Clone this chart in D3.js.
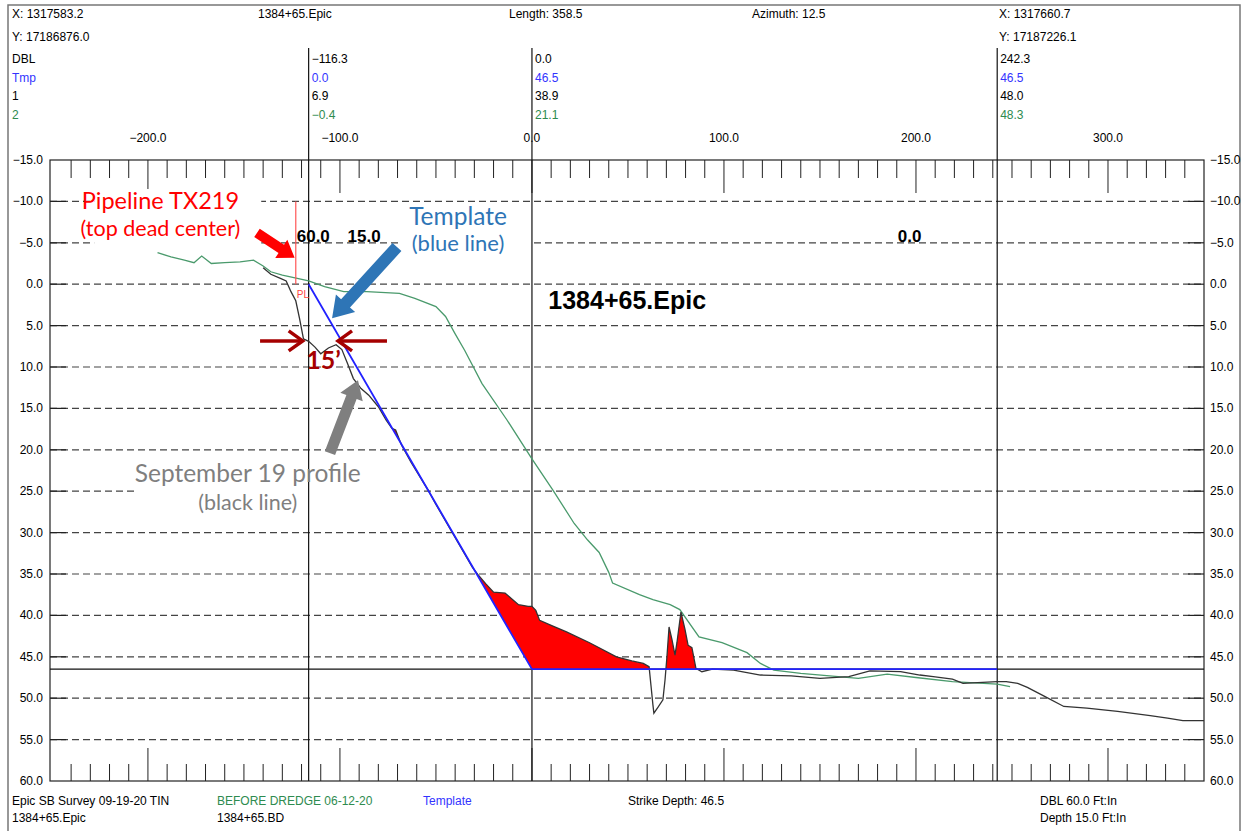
<!DOCTYPE html>
<head>
<meta charset="utf-8" />
<style>
  body { margin: 0; background: #fff; }
  text { font-family: "Liberation Sans", Arial, sans-serif; font-size: 12px; }
  .note { font-family: Lato, "Open Sans", sans-serif; }
</style>
</head>
<body>
<svg id="chart" width="1247" height="831"></svg>
<script src="https://cdnjs.cloudflare.com/ajax/libs/d3/7.8.5/d3.min.js"></script>
<script>
// ---- data ----
const stations = [-116.3, 0.0, 242.3];          // DBL columns
const tmpValues = [0.0, 46.5, 46.5];
const surveyValues = [6.9, 38.9, 48.0];
const beforeValues = [-0.4, 21.1, 48.3];

const templateX = [-116.3, 0.0, 242.3];
const templateY = [0.0, 46.5, 46.5];
const strikeDepth = 46.5;
const pipelineX = -123;

const xLabels = [-200, -100, 0, 100, 200, 300];
const yLabels = d3.range(-15, 60.01, 5);

// Epic SB Survey 09-19-20 (black)
const surveyProfile = [
  [-140,-2.0],[-136,-1.2],[-131,-0.7],[-128,-0.4],[-125.5,0.9],[-123,2.0],[-121,4.2],[-119,6.6],
  [-116.3,6.9],[-113,7.6],[-110,8.4],[-106,7.7],[-102,7.3],[-99,7.9],[-96,9.6],[-93,11.4],[-89,12.6],
  [-85,13.4],[-80,14.8],[-76,16.4],[-73,17.4],[-71,17.6],[-68,19.4],[-63,21.5],[-58,23.4],[-54,24.9],
  [-50,26.6],[-46,28.2],[-42,29.8],[-38,31.4],[-34,33.0],[-31,34.2],[-28,35.1],[-24,36.2],[-20,37.2],
  [-14,37.3],[-10,38.1],[-7,38.7],[-2,38.9],[0,38.9],[2,39.4],[4,40.6],[10,41.2],[18,42.0],[30,43.3],
  [44,45.0],[52,45.5],[58,45.8],[61,46.2],[62,48.5],[63,50.8],[63.5,51.8],[65.6,51.1],[68.2,50.2],
  [69.3,47.8],[70.3,45.0],[71.4,41.4],[72.9,42.9],[74.5,44.8],[75.5,43.3],[77.6,39.6],[79.7,41.7],
  [81.3,43.6],[83.3,43.9],[85.4,46.4],[88.5,46.8],[94,46.5],[105,46.6],[119,47.2],[135,47.3],
  [150,47.6],[165,47.4],[176,46.7],[192,46.8],[202,47.2],[209,47.4],[219,47.7],[224.5,48.2],
  [242.3,48.0],[247,48.0],[253,48.2],[258,48.7],[268,49.9],[277,51.0],[289,51.2],[305,51.6],
  [322,52.1],[331,52.4],[339,52.7],[350,52.7]
];

// BEFORE DREDGE 06-12-20 (green)
const beforeProfile = [
  [-195,-3.8],[-188,-3.3],[-181,-2.9],[-176,-2.6],[-172,-3.4],[-167,-2.5],[-160,-2.6],[-152,-2.7],
  [-145,-2.9],[-140,-2.2],[-136,-1.5],[-130,-1.1],[-124,-0.8],[-116.3,-0.4],[-108,0.3],[-98,0.9],
  [-86,0.9],[-69,1.1],[-61,1.7],[-50,2.7],[-45,3.9],[-40,6.0],[-35,8.0],[-26,12.0],[-13,16.4],
  [0,21.1],[11,24.9],[22,28.9],[29,30.9],[35,32.4],[40,34.8],[42,36.1],[56,37.5],[63,38.1],[72,38.7],
  [77,39.3],[87,42.6],[99,43.3],[112,44.5],[119,45.8],[126,46.6],[140,47.0],[155,47.3],[170,47.6],
  [185,47.1],[200,47.5],[219,48.0],[242.3,48.3],[249,48.6]
];

// ---- layout ----
const plot = { left: 50, right: 1204, top: 160, bottom: 781 };
const x = d3.scaleLinear().domain([-251, 350]).range([plot.left, plot.right]);
const y = d3.scaleLinear().domain([-15, 60]).range([plot.top, plot.bottom]);
const fmt = d3.format('.1f');

const svg = d3.select('#chart');

function label(g, px, py, s, color, anchor, extra) {
  const t = g.append('text').attr('x', px).attr('y', py).text(s)
    .attr('fill', color || '#000').attr('text-anchor', anchor || 'start');
  if (extra) extra(t);
  return t;
}

// outer frame
svg.append('rect').attr('x', 8).attr('y', 5).attr('width', 1232).attr('height', 840)
  .attr('fill', 'none').attr('stroke', '#777').attr('stroke-width', 1.5);

// ---- header ----
const head = svg.append('g');
label(head, 12, 18, 'X: 1317583.2');
label(head, 258, 18, '1384+65.Epic');
label(head, 509, 18, 'Length: 358.5');
label(head, 752, 18, 'Azimuth: 12.5');
label(head, 999, 18, 'X: 1317660.7');
label(head, 12, 41, 'Y: 17186876.0');
label(head, 999, 41, 'Y: 17187226.1');

const rows = [
  { name: 'DBL', color: '#000', vals: stations },
  { name: 'Tmp', color: '#3333ff', vals: tmpValues },
  { name: '1', color: '#000', vals: surveyValues },
  { name: '2', color: '#2e8b4f', vals: beforeValues }
];
rows.forEach((r, i) => {
  const by = 63 + i * 18.5;
  label(head, 12, by, r.name, r.color);
  r.vals.forEach((v, j) => label(head, x(stations[j]) + 3, by, fmt(v), r.color));
});

xLabels.forEach(v => label(head, x(v), 142, fmt(v), '#000', 'middle'));

// ---- grid ----
const grid = svg.append('g');
yLabels.filter(v => v > -15 && v < 60).forEach(v => {
  grid.append('line').attr('x1', plot.left).attr('x2', plot.right)
    .attr('y1', y(v)).attr('y2', y(v))
    .attr('stroke', '#444').attr('stroke-width', 1.2).attr('stroke-dasharray', '7,4');
  [[plot.left, plot.left + 16], [plot.right - 16, plot.right]].forEach(([a, b]) =>
    grid.append('line').attr('x1', a).attr('x2', b).attr('y1', y(v)).attr('y2', y(v))
      .attr('stroke', '#222').attr('stroke-width', 1.2));
});

yLabels.forEach(v => {
  label(grid, plot.left - 7, y(v) + 4, fmt(v), '#000', 'end');
  label(grid, plot.right + 6, y(v) + 4, fmt(v), '#000', 'start');
});

// ticks top & bottom
d3.range(-240, 341, 10).forEach(v => {
  const major = v % 100 === 0;
  grid.append('line').attr('x1', x(v)).attr('x2', x(v))
    .attr('y1', plot.top).attr('y2', plot.top + (major ? 33 : 18)).attr('stroke', '#222');
  grid.append('line').attr('x1', x(v)).attr('x2', x(v))
    .attr('y1', plot.bottom).attr('y2', plot.bottom - (major ? 33 : 17)).attr('stroke', '#222');
});

// white boxes behind the callouts
const boxes = [
  { x0: -228, x1: -141, y0: -11.5, y1: -4.5 },
  { x0: -68, x1: 0, y0: -9.5, y1: -2.0 },
  { x0: -207, x1: -75, y0: 20.5, y1: 27.8 }
];
boxes.forEach(b => svg.append('rect')
  .attr('x', x(b.x0)).attr('y', y(b.y0))
  .attr('width', x(b.x1) - x(b.x0)).attr('height', y(b.y1) - y(b.y0))
  .attr('fill', '#fff'));

// plot frame
svg.append('rect').attr('x', plot.left).attr('y', plot.top)
  .attr('width', plot.right - plot.left).attr('height', plot.bottom - plot.top)
  .attr('fill', 'none').attr('stroke', '#222').attr('stroke-width', 1.2);

// station verticals
stations.forEach(s => svg.append('line').attr('x1', x(s)).attr('x2', x(s))
  .attr('y1', 48).attr('y2', plot.bottom).attr('stroke', '#111').attr('stroke-width', 1.2));

// strike depth
svg.append('line').attr('x1', plot.left).attr('x2', plot.right)
  .attr('y1', y(strikeDepth)).attr('y2', y(strikeDepth)).attr('stroke', '#111').attr('stroke-width', 1.2);

// ---- red fill: survey above template ----
function interp(xs, ys, v) {
  for (let i = 0; i < xs.length - 1; i++) {
    if (v >= xs[i] && v <= xs[i + 1]) {
      const t = (v - xs[i]) / (xs[i + 1] - xs[i]);
      return ys[i] + t * (ys[i + 1] - ys[i]);
    }
  }
  return null;
}
const sx = surveyProfile.map(d => d[0]), sy = surveyProfile.map(d => d[1]);
const xs = Array.from(new Set(sx.concat(templateX)))
  .filter(v => v >= templateX[0] && v <= templateX[templateX.length - 1]).sort((a, b) => a - b);
const fillPts = [];
xs.forEach((v, i) => {
  const diff = interp(templateX, templateY, v) - interp(sx, sy, v);
  if (i > 0) {
    const pv = xs[i - 1];
    const pdiff = interp(templateX, templateY, pv) - interp(sx, sy, pv);
    if (pdiff * diff < 0) fillPts.push(pv + (v - pv) * pdiff / (pdiff - diff));
  }
  fillPts.push(v);
});
const fillData = fillPts.map(v => {
  const t = interp(templateX, templateY, v), s = interp(sx, sy, v);
  return { x: v, t: t, s: Math.min(t, s) };
});
svg.append('path').datum(fillData)
  .attr('d', d3.area().x(d => x(d.x)).y0(d => y(d.t)).y1(d => y(d.s)))
  .attr('fill', '#ff0000');

// ---- profiles ----
const line = d3.line().x(d => x(d[0])).y(d => y(d[1]));
svg.append('path').datum(beforeProfile).attr('d', line)
  .attr('fill', 'none').attr('stroke', '#4a9a6c').attr('stroke-width', 1.3);
svg.append('path').datum(surveyProfile).attr('d', line)
  .attr('fill', 'none').attr('stroke', '#333').attr('stroke-width', 1.3);
svg.append('path').datum(templateX.map((v, i) => [v, templateY[i]])).attr('d', line)
  .attr('fill', 'none').attr('stroke', '#2222ff').attr('stroke-width', 1.8);

// pipeline marker
svg.append('line').attr('x1', x(pipelineX)).attr('x2', x(pipelineX))
  .attr('y1', y(-10)).attr('y2', y(0)).attr('stroke', '#ff5555').attr('stroke-width', 1.2);
label(svg, x(pipelineX) + 1, y(0) + 14, 'PL', '#ff4444', 'start', t => t.style('font-size', '10px'));

// in-plot labels
const bold = t => t.style('font-weight', 'bold').style('font-size', '17px');
label(svg, x(-122.5), y(-5) - 1, '60.0', '#000', 'start', bold);
label(svg, x(-96), y(-5) - 1, '15.0', '#000', 'start', bold);
label(svg, x(190.5), y(-5) - 1, '0.0', '#000', 'start', bold);
label(svg, x(8.5), y(3), '1384+65.Epic', '#000', 'start',
  t => t.style('font-weight', 'bold').style('font-size', '25px'));

// ---- callouts ----
function blockArrow(x1, y1, x2, y2, bw, hw, hl, color) {
  const dx = x2 - x1, dy = y2 - y1, L = Math.hypot(dx, dy);
  const ux = dx / L, uy = dy / L, px = -uy, py = ux;
  const bx = x2 - ux * hl, by = y2 - uy * hl;
  const pts = [
    [x1 + px * bw / 2, y1 + py * bw / 2], [bx + px * bw / 2, by + py * bw / 2],
    [bx + px * hw / 2, by + py * hw / 2], [x2, y2],
    [bx - px * hw / 2, by - py * hw / 2], [bx - px * bw / 2, by - py * bw / 2],
    [x1 - px * bw / 2, y1 - py * bw / 2]
  ];
  svg.append('polygon').attr('points', pts.map(p => p.join(',')).join(' ')).attr('fill', color);
}
function chevronArrow(x1, y1, x2, y2, color) {
  const dx = x2 - x1, dy = y2 - y1, L = Math.hypot(dx, dy);
  const ux = dx / L, uy = dy / L, px = -uy, py = ux;
  svg.append('line').attr('x1', x1).attr('y1', y1).attr('x2', x2).attr('y2', y2)
    .attr('stroke', color).attr('stroke-width', 3.5);
  svg.append('polyline')
    .attr('points', [[x2 - ux * 14 + px * 10, y2 - uy * 14 + py * 10], [x2, y2],
      [x2 - ux * 14 - px * 10, y2 - uy * 14 - py * 10]].map(p => p.join(',')).join(' '))
    .attr('fill', 'none').attr('stroke', color).attr('stroke-width', 3.5);
}

blockArrow(x(-143.2), y(-6.2), x(-123.6), y(-3.2), 10, 22, 16, '#ff0000');
blockArrow(x(-70.3), y(-4.5), x(-104.1), y(4.1), 12, 26, 20, '#2e75b6');
blockArrow(x(-105.2), y(20.4), x(-90.6), y(11.6), 11, 24, 18, '#7f7f7f');
chevronArrow(x(-141.6), y(6.85), x(-119.4), y(6.85), '#a50000');
chevronArrow(x(-75.5), y(6.85), x(-101), y(6.85), '#a50000');

const note = (g, px, py, s, color, size, weight) =>
  label(g, px, py, s, color, 'middle', t => t.attr('class', 'note')
    .style('font-size', size + 'px').style('font-weight', weight || 'normal'));

note(svg, x(-193.5), y(-9.1), 'Pipeline TX219', '#ff0000', 23.5);
note(svg, x(-193.5), y(-5.8), '(top dead center)', '#ff0000', 21.5);
note(svg, x(-38.5), y(-7.1), 'Template', '#2e75b6', 24.5);
note(svg, x(-38.5), y(-4.0), '(blue line)', '#2e75b6', 22);
note(svg, x(-148), y(23.9), 'September 19 profile', '#7f7f7f', 24.5);
note(svg, x(-148), y(27.3), '(black line)', '#7f7f7f', 21.5);
note(svg, x(-108.5), y(10.3), '15\u2019', '#a50000', 25, 'bold');

// ---- footer ----
const foot = svg.append('g');
label(foot, 12, 805, 'Epic SB Survey 09-19-20 TIN');
label(foot, 12, 822, '1384+65.Epic');
label(foot, 217, 805, 'BEFORE DREDGE 06-12-20', '#2e8b4f');
label(foot, 217, 822, '1384+65.BD');
label(foot, 423, 805, 'Template', '#3333ff');
label(foot, 628, 805, 'Strike Depth: ' + fmt(strikeDepth));
label(foot, 1040, 805, 'DBL 60.0 Ft:In');
label(foot, 1040, 822, 'Depth 15.0 Ft:In');
</script>
</body>
